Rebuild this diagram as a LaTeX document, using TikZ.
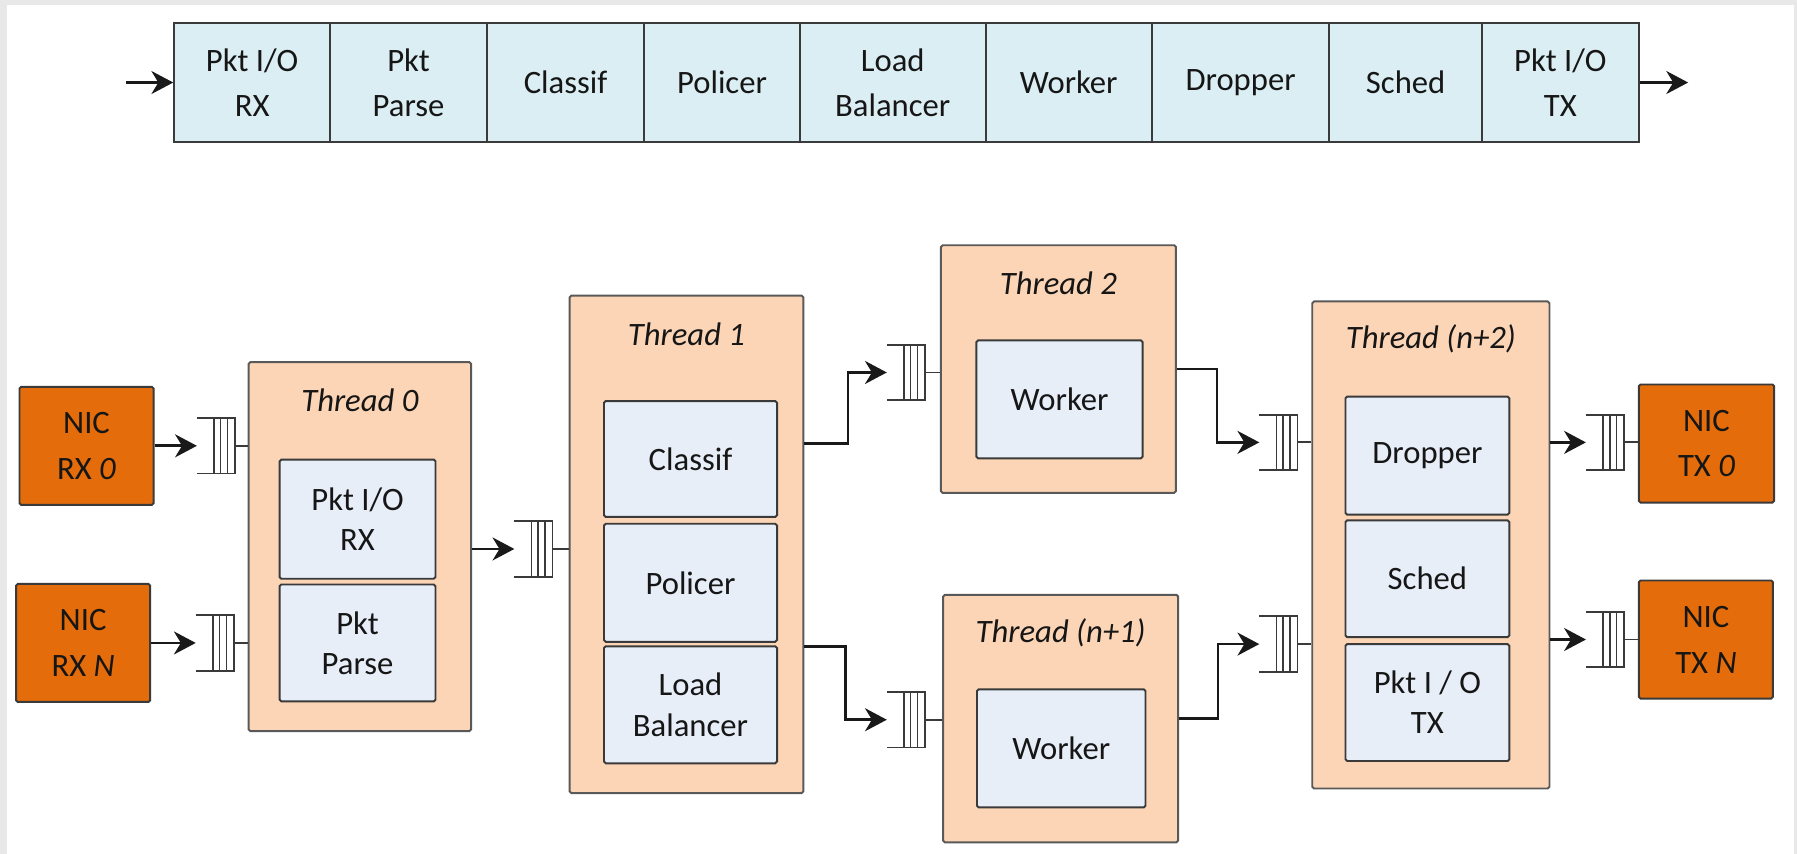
\documentclass[tikz,border=0pt]{standalone}
\usepackage{fontspec}
\setmainfont{Carlito}
\usetikzlibrary{arrows.meta,calc}
\definecolor{nicor}{HTML}{E46C0A}
\definecolor{thr}{HTML}{FBD5B5}
\definecolor{inbox}{HTML}{E7EEF8}
\definecolor{barc}{HTML}{DBEEF3}
\definecolor{edge}{HTML}{3A3A3A}
\definecolor{txt}{HTML}{161616}
\newcommand{\qsym}[2]{%
  \node[qnode] (#1) at (#2) {};
  \draw[qline] (#1.north west) -- (#1.north east) -- (#1.south east) -- (#1.south west);
  \foreach \f in {0.45,0.62,0.8}{%
    \draw[qline] ($(#1.north west)!\f!(#1.north east)$) -- ($(#1.south west)!\f!(#1.south east)$);}
}
\begin{document}
\begin{tikzpicture}[x=1pt,y=-1pt,
  box/.style={draw=edge, line width=1.7pt, rounded corners=1.5pt, inner sep=0pt, align=center, text=txt},
  barcell/.style={box, rounded corners=0pt, fill=barc, minimum height=104pt, font=\fontsize{28.5}{39}\selectfont},
  nic/.style={box, fill=nicor, minimum width=117pt, minimum height=103pt, font=\fontsize{28.5}{40}\selectfont},
  thread/.style={box, fill=thr, draw=black!65},
  stage/.style={box, fill=inbox, font=\fontsize{28.5}{35}\selectfont},
  ttl/.style={text=txt, font=\fontsize{28.5}{34}\selectfont\itshape, inner sep=0pt},
  qnode/.style={minimum width=33pt, minimum height=48pt, inner sep=0pt},
  qline/.style={draw=edge, line width=1.5pt},
  conn/.style={draw=black!90, line width=2.4pt},
  arr/.style={conn, -{Stealth[length=19pt,width=20pt,inset=6pt]}},
  thinc/.style={draw=edge, line width=1.6pt}
  ]
\useasboundingbox (0,0) rectangle (1568,745);
\fill[black!9] (0,0) rectangle (1568,745);
\fill[white] (6,4) rectangle (1565,745);

% ---------- top bar ----------
\node[barcell, minimum width=136pt] (b1) at (220,72) {Pkt I/O\\RX};
\node[barcell, minimum width=137pt] (b2) at (356.5,72) {Pkt\\Parse};
\node[barcell, minimum width=137pt] (b3) at (493.5,72) {Classif};
\node[barcell, minimum width=136pt] (b4) at (630,72) {Policer};
\node[barcell, minimum width=162pt] (b5) at (779,72) {Load\\Balancer};
\node[barcell, minimum width=145pt] (b6) at (932.5,72) {Worker};
\node[barcell, minimum width=155pt] (b7) at (1082.5,72) {Dropper};
\node[barcell, minimum width=133pt] (b8) at (1226.5,72) {Sched};
\node[barcell, minimum width=137pt] (b9) at (1361.5,72) {Pkt I/O\\TX};
\coordinate (bin) at (110,72);
\coordinate (bout) at (1473,72);
\draw[arr] (bin) -- (b1.west);
\draw[arr] (b9.east) -- (bout);

% ---------- NIC RX ----------
\node[nic] (nicrx0) at (75.5,389) {NIC\\RX \textit{0}};
\node[nic] (nicrxN) at (72.5,561) {NIC\\RX \textit{N}};

% ---------- Thread 0 ----------
\node[thread, minimum width=194pt, minimum height=322pt] (th0) at (314,477) {};
\node[ttl] (th0t) at (314,349) {Thread 0};
\node[stage, minimum width=136pt, minimum height=104pt] (th0a) at (312,453) {Pkt I/O\\RX};
\node[stage, minimum width=136pt, minimum height=102pt] (th0b) at (312,561) {Pkt\\Parse};

% ---------- Thread 1 ----------
\node[thread, minimum width=204pt, minimum height=434pt] (th1) at (599,475) {};
\node[ttl] (th1t) at (599,292) {Thread 1};
\node[stage, minimum width=151pt, minimum height=101pt] (th1a) at (602.5,400.5) {Classif};
\node[stage, minimum width=151pt, minimum height=103pt] (th1b) at (602.5,508.5) {Policer};
\node[stage, minimum width=151pt, minimum height=102pt] (th1c) at (602.5,615) {Load\\Balancer};

% ---------- Thread 2 ----------
\node[thread, minimum width=205pt, minimum height=216pt] (th2) at (923.5,322) {};
\node[ttl] (th2t) at (923.5,247) {Thread 2};
\node[stage, minimum width=145pt, minimum height=103pt] (th2a) at (924.5,348.5) {Worker};

% ---------- Thread (n+1) ----------
\node[thread, minimum width=205pt, minimum height=216pt] (thn1) at (925.5,627) {};
\node[ttl] (thn1t) at (925.5,552) {Thread (n+1)};
\node[stage, minimum width=147pt, minimum height=103pt] (thn1a) at (926,653) {Worker};

% ---------- Thread (n+2) ----------
\node[thread, minimum width=207pt, minimum height=425pt] (thn2) at (1248.5,475.5) {};
\node[ttl] (thn2t) at (1248.5,296) {Thread (n+2)};
\node[stage, minimum width=143pt, minimum height=103pt] (thn2a) at (1245.5,397.5) {Dropper};
\node[stage, minimum width=143pt, minimum height=102pt] (thn2b) at (1245.5,505) {Sched};
\node[stage, minimum width=143pt, minimum height=102pt] (thn2c) at (1245.5,613) {Pkt I / O\\TX};

% ---------- NIC TX ----------
\node[nic, minimum width=118pt] (nictx0) at (1489,387) {NIC\\TX \textit{0}};
\node[nic] (nictxN) at (1488.5,558) {NIC\\TX \textit{N}};

% ---------- queues ----------
\qsym{qrx0}{188.5,389}
\qsym{qrxN}{187.5,561}
\qsym{q1}{465.5,479}
\qsym{q2}{790.5,325}
\qsym{qn1}{790.5,628}
\qsym{qn2a}{1115.5,386}
\qsym{qn2b}{1115.5,562}
\qsym{qtx0}{1400.5,386}
\qsym{qtxN}{1400.5,558}

% ---------- connectors ----------
\draw[arr] (qrx0.west -| nicrx0.east) -- (qrx0.west);
\draw[arr] (qrxN.west -| nicrxN.east) -- (qrxN.west);
\draw[thinc] (qrx0.east) -- (qrx0.east -| th0.west);
\draw[thinc] (qrxN.east) -- (qrxN.east -| th0.west);

\draw[arr] (q1.west -| th0.east) -- (q1.west);
\draw[thinc] (q1.east) -- (q1.east -| th1.west);

\draw[arr] ([yshift=88pt]th1.east) -- ++(38,0) |- (q2.west);
\draw[arr] ([yshift=-89pt]th1.east) -- ++(36,0) |- (qn1.west);
\draw[thinc] (q2.east) -- (q2.east -| th2.west);
\draw[thinc] (qn1.east) -- (qn1.east -| thn1.west);

\draw[arr] (th2.east) -- ++(35,0) |- (qn2a.west);
\draw[arr] (thn1.east) -- ++(34,0) |- (qn2b.west);
\draw[thinc] (qn2a.east) -- (qn2a.east -| thn2.west);
\draw[thinc] (qn2b.east) -- (qn2b.east -| thn2.west);

\draw[arr] (qtx0.west -| thn2.east) -- (qtx0.west);
\draw[arr] (qtxN.west -| thn2.east) -- (qtxN.west);
\draw[thinc] (qtx0.east) -- (qtx0.east -| nictx0.west);
\draw[thinc] (qtxN.east) -- (qtxN.east -| nictxN.west);
\end{tikzpicture}
\end{document}
